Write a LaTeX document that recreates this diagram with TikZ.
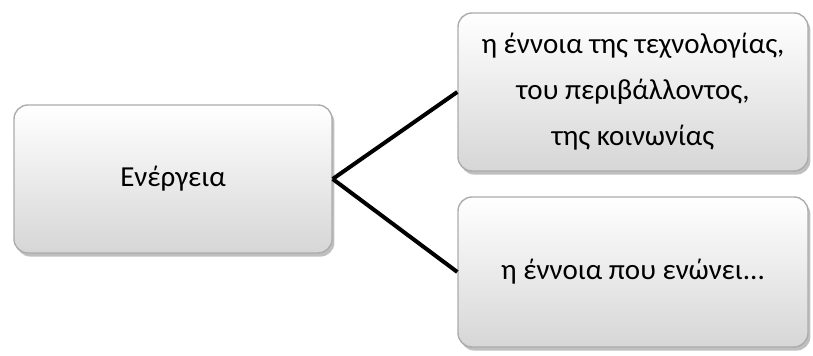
\documentclass[tikz,border=0pt]{standalone}
\usepackage{fontspec}
\setmainfont{Carlito}
\usetikzlibrary{shadows}

\begin{document}
\begin{tikzpicture}[x=0.5pt,y=-0.5pt,line width=2pt]
  \tikzstyle{every node}=[font=\fontsize{14.5}{23}\selectfont]
  \tikzstyle{box}=[draw=gray!65,line width=0.7pt,rounded corners=7pt,
                   top color=white,bottom color=gray!32,align=center,
                   drop shadow={opacity=0.5,shadow xshift=1.2pt,shadow yshift=-1.8pt}]
\useasboundingbox (0,0) rectangle (813,356);
\node [box,minimum width=159pt,minimum height=74pt] (energy) at (173,179) {Ενέργεια};
\node [box,minimum width=175pt,minimum height=79pt] (tech) at (633,92)
      {η έννοια της τεχνολογίας,\\ του περιβάλλοντος,\\ της κοινωνίας};
\node [box,minimum width=175pt,minimum height=75pt] (unite) at (633,272) {η έννοια που ενώνει...};

\draw (energy.east) -- (tech.west);
\draw (energy.east) -- (unite.west);
\end{tikzpicture}
\end{document}
